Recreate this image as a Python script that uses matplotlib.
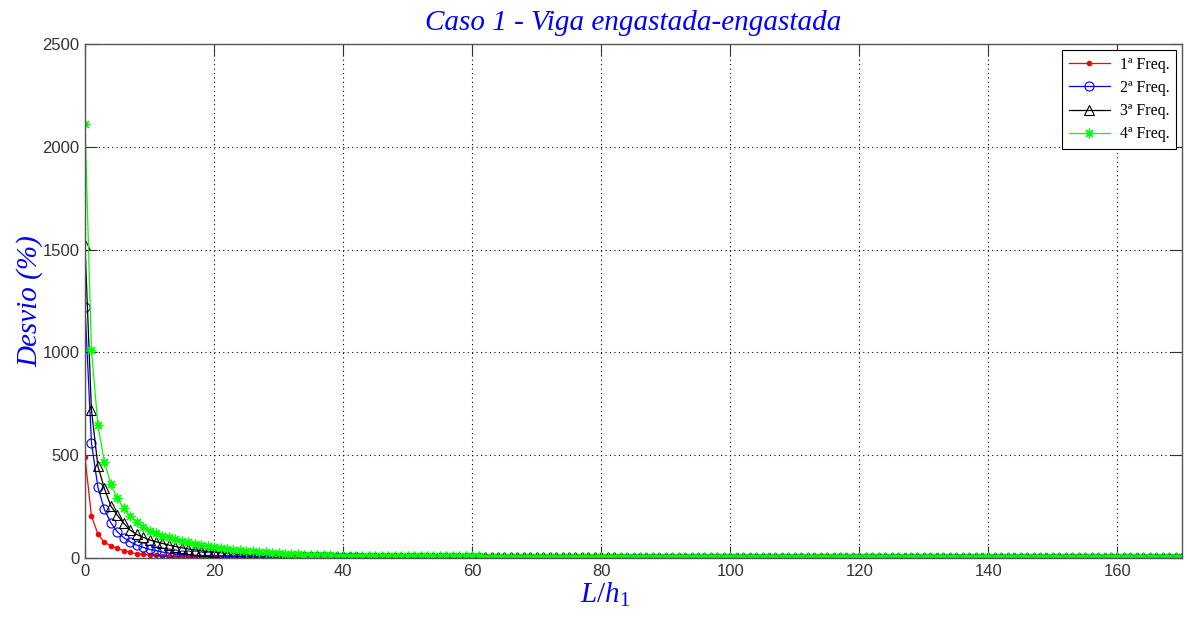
import matplotlib.pyplot as plt
import numpy as np

plt.rcParams['mathtext.fontset'] = 'custom'
plt.rcParams['mathtext.it'] = 'Liberation Serif:italic'
plt.rcParams['mathtext.rm'] = 'Liberation Serif'

# Slenderness ratio L/h1
L_h = np.arange(0, 171)

# Deviation (%) for each natural frequency
freq1 = [491, 204, 117, 76, 60, 47, 36, 27, 21, 18,
         15, 13, 11, 10, 9, 8.2, 7.5, 7, 6.5, 6.1,
         5.8, 5.5, 5.2, 5, 4.8, 4.6, 4.4, 4.2, 4, 3.9,
         3.8, 3.7, 3.6, 3.5, 3.4, 3.3, 3.2, 3.1, 3, 2.9,
         2.9, 2.8, 2.8, 2.7, 2.7, 2.6, 2.6, 2.5, 2.5, 2.5,
         2.4, 2.4, 2.4, 2.3, 2.3, 2.3, 2.2, 2.2, 2.2, 2.2,
         2.1, 2.1, 2.1, 2.1, 2, 2, 2, 2, 2, 2,
         1.9, 1.9, 1.9, 1.9, 1.9, 1.9, 1.8, 1.8, 1.8, 1.8,
         1.8, 1.8, 1.8, 1.8, 1.7, 1.7, 1.7, 1.7, 1.7, 1.7,
         1.7, 1.7, 1.7, 1.7, 1.7, 1.6, 1.6, 1.6, 1.6, 1.6,
         1.6, 1.6, 1.6, 1.6, 1.6, 1.6, 1.6, 1.6, 1.6, 1.6,
         1.5, 1.5, 1.5, 1.5, 1.5, 1.5, 1.5, 1.5, 1.5, 1.5,
         1.5, 1.5, 1.5, 1.5, 1.5, 1.5, 1.5, 1.5, 1.5, 1.5,
         1.5, 1.5, 1.5, 1.5, 1.5, 1.5, 1.5, 1.5, 1.5, 1.5,
         1.5, 1.5, 1.5, 1.5, 1.5, 1.5, 1.5, 1.5, 1.5, 1.5,
         1.5, 1.5, 1.5, 1.5, 1.5, 1.5, 1.5, 1.5, 1.5, 1.5,
         1.5, 1.5, 1.5, 1.5, 1.5, 1.5, 1.5, 1.5, 1.5, 1.5,
         1.5]
freq2 = [1221, 561, 344, 237, 172, 128, 99, 79, 63, 52,
         42, 36, 29, 24, 20, 17, 15, 13, 12, 11,
         10, 9, 8.5, 8, 7.5, 7, 6.5, 6, 5.6, 5.2,
         4.9, 4.6, 4.3, 4, 3.8, 3.6, 3.4, 3.2, 3, 2.9,
         2.8, 2.7, 2.6, 2.5, 2.4, 2.3, 2.3, 2.2, 2.2, 2.1,
         2.1, 2, 2, 2, 1.9, 1.9, 1.9, 1.8, 1.8, 1.8,
         1.7, 1.7, 1.7, 1.7, 1.6, 1.6, 1.6, 1.6, 1.5, 1.5,
         1.5, 1.5, 1.5, 1.4, 1.4, 1.4, 1.4, 1.4, 1.4, 1.3,
         1.3, 1.3, 1.3, 1.3, 1.3, 1.3, 1.2, 1.2, 1.2, 1.2,
         1.2, 1.2, 1.2, 1.2, 1.2, 1.1, 1.1, 1.1, 1.1, 1.1,
         1.1, 1.1, 1.1, 1.1, 1.1, 1.1, 1.1, 1, 1, 1,
         1, 1, 1, 1, 1, 1, 1, 1, 1, 1,
         1, 1, 1, 1, 1, 1, 1, 1, 1, 1,
         1, 1, 1, 1, 1, 1, 1, 1, 1, 1,
         1, 1, 1, 1, 1, 1, 1, 1, 1, 1,
         1, 1, 1, 1, 1, 1, 1, 1, 1, 1,
         1, 1, 1, 1, 1, 1, 1, 1, 1, 1,
         1]
freq3 = [1522, 720, 447, 339, 253, 209, 169, 136, 115, 101,
         88, 79, 71, 63, 56, 50, 44, 40, 36, 32,
         29, 26, 23, 21, 19, 17, 16, 15, 14, 13,
         12, 11, 10, 9.5, 9, 8.5, 8, 7.5, 7, 6.5,
         6.2, 6, 5.8, 5.6, 5.4, 5.2, 5, 4.8, 4.7, 4.6,
         4.4, 4.3, 4.2, 4.1, 4, 3.9, 3.8, 3.7, 3.6, 3.5,
         3.5, 3.4, 3.3, 3.3, 3.2, 3.2, 3.1, 3.1, 3, 3,
         2.9, 2.9, 2.9, 2.8, 2.8, 2.8, 2.7, 2.7, 2.7, 2.6,
         2.6, 2.6, 2.6, 2.5, 2.5, 2.5, 2.5, 2.4, 2.4, 2.4,
         2.4, 2.4, 2.3, 2.3, 2.3, 2.3, 2.3, 2.3, 2.2, 2.2,
         2.2, 2.2, 2.2, 2.2, 2.2, 2.1, 2.1, 2.1, 2.1, 2.1,
         2.1, 2.1, 2.1, 2, 2, 2, 2, 2, 2, 2,
         2, 2, 2, 2, 2, 2, 2, 2, 2, 2,
         2, 2, 2, 2, 2, 2, 2, 2, 2, 2,
         2, 2, 2, 2, 2, 2, 2, 2, 2, 2,
         2, 2, 2, 2, 2, 2, 2, 2, 2, 2,
         2, 2, 2, 2, 2, 2, 2, 2, 2, 2,
         2]
freq4 = [2110, 1012, 647, 468, 360, 290, 242, 204, 177, 152,
         133, 120, 108, 100, 91, 83, 76, 69, 63, 57,
         52, 48, 44, 41, 38, 35, 32, 30, 28, 26,
         24, 22, 20, 19, 17, 16, 15, 14, 13, 12,
         12, 11.5, 11, 10.5, 10, 10, 9.5, 9.5, 9, 9,
         9, 8.5, 8.5, 8.5, 8, 8, 8, 8, 7.5, 7.5,
         7.5, 7.5, 7, 7, 7, 7, 7, 7, 6.5, 6.5,
         6.5, 6.5, 6.5, 6.5, 6.5, 6.5, 6, 6, 6, 6,
         6, 6, 6, 6, 6, 6, 6, 6, 6, 6,
         6, 6, 6, 6, 6, 5.5, 5.5, 5.5, 5.5, 5.5,
         5.5, 5.5, 5.5, 5.5, 5.5, 5.5, 5.5, 5.5, 5.5, 5.5,
         5.5, 5.5, 5.5, 5.5, 5.5, 5.5, 5.5, 5.5, 5.5, 5.5,
         5.5, 5.5, 5.5, 5.5, 5.5, 5, 5, 5, 5, 5,
         5, 5, 5, 5, 5, 5, 5, 5, 5, 5,
         5, 5, 5, 5, 5, 5, 5, 5, 5, 5,
         5, 5, 5, 5, 5, 5, 5, 5, 5, 5,
         5, 5, 5, 5, 5, 5, 5, 5, 5, 5,
         5]

labels = ['1ª Freq.', '2ª Freq.', '3ª Freq.', '4ª Freq.']
x_ticks = np.arange(0, 161, 20)
y_ticks = np.arange(0, 2501, 500)

fig = plt.figure(figsize=(11.87, 6.21), dpi=100)
ax = fig.add_axes([0.0716, 0.1014, 0.9242, 0.8277])

asterisk = (8, 2, 0)
ax.plot(L_h, freq1, '-', color='red', marker='.', markersize=6, lw=0.9, label=labels[0])
ax.plot(L_h, freq2, '-', color='blue', marker='o', markersize=6.5, mfc='none', mew=0.8, lw=0.9, label=labels[1])
ax.plot(L_h, freq3, '-', color='black', marker='^', markersize=7, mfc='none', mew=0.8, lw=0.9, label=labels[2])
ax.plot(L_h, freq4, '-', color='#00ff00', marker=asterisk, markersize=7, mew=0.9, lw=0.9, label=labels[3])

ax.set_xlim(0, 170)
ax.set_ylim(0, 2500)
ax.set_xticks(x_ticks)
ax.set_yticks(y_ticks)
ax.grid(True, color='black', linestyle=(0, (1, 3)), linewidth=0.8)
ax.tick_params(direction='in', length=8.5, width=0.8, top=True, right=True,
               labelsize=12, labelcolor='#333333', colors='#333333', pad=4)
for lab in ax.get_xticklabels() + ax.get_yticklabels():
    lab.set_fontfamily('Liberation Sans')
    lab.set_color('#333333')
for sp in ax.spines.values():
    sp.set_color('#555555')
    sp.set_linewidth(1.0)

ax.set_title('Caso 1 - Viga engastada-engastada', fontfamily='Liberation Serif',
             fontstyle='italic', fontsize=21, color='blue', pad=10)
ax.set_xlabel('$L/h_1$', fontsize=21, color='blue', labelpad=5)
ax.xaxis.set_label_coords(0.474, -0.045, transform=ax.transAxes)
ax.xaxis.label.set_verticalalignment('top')
ax.set_ylabel('Desvio (%)', fontfamily='Liberation Serif', fontstyle='italic',
              fontsize=21, color='blue', labelpad=-1)

leg = ax.legend(loc='upper right', prop={'family': 'Liberation Serif', 'size': 11.5},
                fancybox=False, edgecolor='black', framealpha=1, handlelength=2.6,
                borderaxespad=0.4, labelspacing=0.45, borderpad=0.4, handletextpad=0.6)
leg.get_frame().set_linewidth(0.8)

fig.savefig('out.png', dpi=100)
